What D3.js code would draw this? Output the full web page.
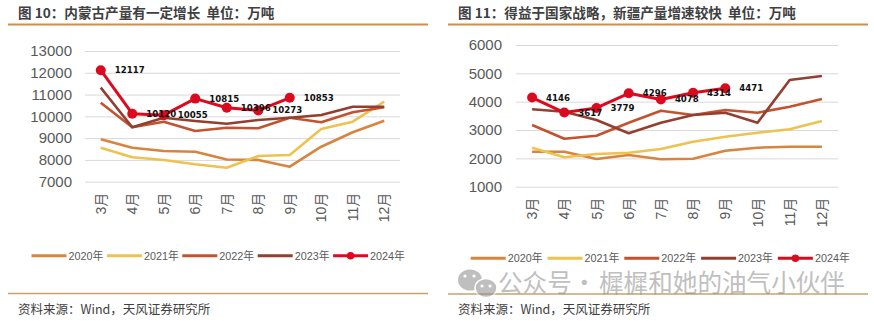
<!DOCTYPE html>
<html>
<head>
<meta charset="utf-8">
<script src="https://cdn.jsdelivr.net/npm/d3@7"></script>
<style>
  body { margin: 0; background: #fff; }
  svg { display: block; font-family: "Liberation Sans", Arial, "Noto Sans CJK SC", sans-serif; }
</style>
</head>
<body>
<script>
// categories
const months = ["3月", "4月", "5月", "6月", "7月", "8月", "9月", "10月", "11月", "12月"];
const years = ["2020年", "2021年", "2022年", "2023年", "2024年"];
const colors = ["#d7843f", "#eec24f", "#c3522f", "#923f2f", "#dc0a1e"];

// 内蒙古 (left)
const nmg2020 = [8947, 8561, 8409, 8378, 8020, 8000, 7689, 8607, 9268, 9800];
const nmg2021 = [8561, 8120, 7996, 7799, 7643, 8180, 8226, 9420, 9755, 10673];
const nmg2022 = [10627, 9500, 9755, 9328, 9480, 9452, 9938, 9727, 10186, 10416];
const nmg2023 = [11316, 9497, 9938, 9787, 9663, 9833, 9938, 10062, 10444, 10444];
const nmg2024 = [12117, 10120, 10055, 10815, 10396, 10273, 10853];
const nmgTicks = [7000, 8000, 9000, 10000, 11000, 12000, 13000];

// 新疆 (right)
const xj2020 = [2235, 2235, 1977, 2118, 1967, 1988, 2270, 2376, 2411, 2411];
const xj2021 = [2376, 2037, 2153, 2200, 2330, 2588, 2764, 2905, 3025, 3318];
const xj2022 = [3177, 2694, 2800, 3258, 3683, 3530, 3706, 3611, 3823, 4094];
const xj2023 = [3731, 3647, 3354, 2884, 3258, 3530, 3611, 3258, 4765, 4906];
const xj2024 = [4146, 3617, 3779, 4296, 4078, 4314, 4471];
const xjTicks = [1000, 2000, 3000, 4000, 5000, 6000];

const titleLeft = "图 10：内蒙古产量有一定增长  单位：万吨";
const titleRight = "图 11：得益于国家战略，新疆产量增速较快  单位：万吨";
const source = "资料来源：Wind，天风证券研究所";

const W = 874, H = 321;
const svg = d3.select("body").append("svg").attr("width", W).attr("height", H);
svg.append("rect").attr("width", W).attr("height", H).attr("fill", "#fff");

function drawPanel(opt) {
  const g = svg.append("g");
  const cjk = '"Noto Sans CJK SC", sans-serif';

  // header
  g.append("text")
    .attr("x", opt.left + 10).attr("y", 18)
    .attr("font-family", cjk).attr("font-weight", "bold")
    .attr("font-size", 13.6).attr("fill", "#404040")
    .style("white-space", "pre")
    .text(opt.title);
  g.append("line")
    .attr("x1", opt.left).attr("x2", opt.left + 420)
    .attr("y1", 24.5).attr("y2", 24.5)
    .attr("stroke", "#d38d4b").attr("stroke-width", 2);

  const x = d3.scaleBand().domain(months).range([opt.x0, opt.x1]);
  const y = d3.scaleLinear().domain(opt.domain).range([opt.yb, opt.yt]);
  const cx = m => x(m) + x.bandwidth() / 2;

  // y axis + grid
  const ya = g.append("g")
    .attr("transform", "translate(" + opt.x0 + ",0)")
    .call(d3.axisLeft(y).tickValues(opt.ticks).tickFormat(d3.format("d"))
      .tickSize(-(opt.x1 - opt.x0)).tickPadding(opt.pad));
  ya.select(".domain").remove();
  ya.selectAll("line").attr("stroke", "#d9d9d9");
  ya.selectAll("text").attr("font-size", 15).attr("fill", "#595959")
    .attr("font-family", '"Liberation Sans", Arial, sans-serif');

  // x axis
  const xa = g.append("g")
    .attr("transform", "translate(0," + opt.yb + ")")
    .call(d3.axisBottom(x).tickSize(0));
  xa.select(".domain").remove();
  xa.selectAll("text")
    .attr("transform", "rotate(-90)")
    .attr("x", -11).attr("y", 0).attr("dy", "0.36em")
    .attr("text-anchor", "end")
    .attr("font-size", 14).attr("fill", "#595959")
    .attr("font-family", '"Liberation Sans", Arial, "Noto Sans CJK SC", sans-serif');

  const line = d3.line().x((d, i) => cx(months[i])).y(d => y(d));
  opt.series.forEach((s, k) => {
    g.append("path").datum(s)
      .attr("d", line)
      .attr("fill", "none")
      .attr("stroke", colors[k])
      .attr("stroke-width", k === 4 ? 3 : 2.6)
      .attr("stroke-linejoin", "round");
  });

  const last = opt.series[4];
  g.selectAll(".dot").data(last).enter().append("circle")
    .attr("cx", (d, i) => cx(months[i])).attr("cy", d => y(d))
    .attr("r", 5).attr("fill", colors[4]);
  g.selectAll(".lbl").data(last).enter().append("text")
    .attr("x", (d, i) => cx(months[i]) + 14).attr("y", d => y(d))
    .attr("dy", "0.35em")
    .attr("font-family", '"DejaVu Sans", sans-serif')
    .attr("font-weight", "bold").attr("font-size", 8.6).attr("fill", "#111")
    .text(d => d);

  // legend
  years.forEach((yr, k) => {
    const lx = opt.legX + k * opt.legStep;
    g.append("line")
      .attr("x1", lx).attr("x2", lx + 35)
      .attr("y1", opt.legY).attr("y2", opt.legY)
      .attr("stroke", colors[k]).attr("stroke-width", 3);
    if (k === 4) {
      g.append("circle").attr("cx", lx + 17.5).attr("cy", opt.legY).attr("r", 3.8).attr("fill", colors[4]);
    }
    g.append("text")
      .attr("x", lx + 37).attr("y", opt.legY).attr("dy", "0.36em")
      .attr("font-size", 10.8).attr("fill", "#595959")
      .attr("font-family", '"Liberation Sans", Arial, "Noto Sans CJK SC", sans-serif')
      .text(yr);
  });

  // footer
  g.append("line")
    .attr("x1", opt.left).attr("x2", opt.left + 420)
    .attr("y1", opt.footY).attr("y2", opt.footY)
    .attr("stroke", "#caa06a").attr("stroke-width", 1.6);
  g.append("text")
    .attr("x", opt.left + 10).attr("y", 313.5)
    .attr("font-family", cjk).attr("font-size", 12.5).attr("fill", "#404040")
    .text(source);
  return g;
}

drawPanel({
  left: 8, title: titleLeft,
  x0: 85, x1: 400, yb: 181.7, yt: 51, domain: [7000, 13000], ticks: nmgTicks, pad: 13,
  series: [nmg2020, nmg2021, nmg2022, nmg2023, nmg2024],
  legX: 31.5, legStep: 75.4, legY: 255.7, footY: 293.5
});

drawPanel({
  left: 448, title: titleRight,
  x0: 516, x1: 838, yb: 186.7, yt: 45, domain: [1000, 6000], ticks: xjTicks, pad: 14,
  series: [xj2020, xj2021, xj2022, xj2023, xj2024],
  legX: 470.7, legStep: 76.8, legY: 258.3, footY: 294
});

// watermark
const wm = svg.append("g").attr("opacity", 0.55);
wm.append("ellipse").attr("cx", 470).attr("cy", 280).attr("rx", 12).attr("ry", 10.5).attr("fill", "#8c8c8c");
wm.append("ellipse").attr("cx", 486).attr("cy", 288).attr("rx", 11).attr("ry", 9.5).attr("fill", "#8c8c8c")
  .attr("stroke", "#fff").attr("stroke-width", 1.5);
[[465, 276], [474, 276], [482, 286], [490, 286]].forEach(p => {
  wm.append("circle").attr("cx", p[0]).attr("cy", p[1]).attr("r", 1.6).attr("fill", "#fff");
});
const wt = wm.append("text").attr("y", 292)
  .attr("font-family", '"Noto Sans CJK SC", sans-serif').attr("font-size", 24.6).attr("fill", "#8c8c8c");
wt.append("tspan").attr("x", 498).text("公众号");
wt.append("tspan").attr("x", 572).text("·");
wt.append("tspan").attr("x", 599).text("樨樨和她的油气小伙伴");
</script>
</body>
</html>
